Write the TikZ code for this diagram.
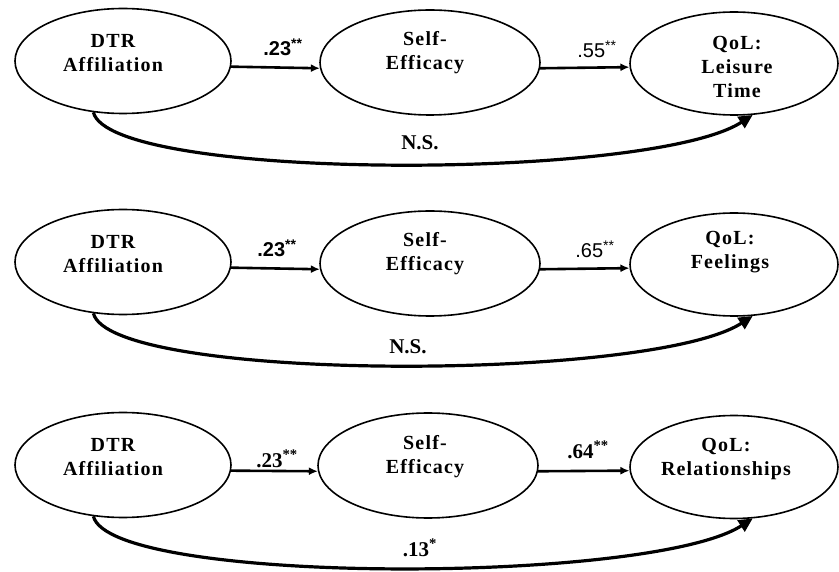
\documentclass[tikz,border=0pt]{standalone}
\usepackage{fontspec}
\setmainfont{Liberation Serif}[LetterSpace=6]
\setsansfont{Liberation Sans}
\newfontfamily\labfont{Liberation Serif}
\usetikzlibrary{arrows.meta,shapes.geometric}
\begin{document}
\begin{tikzpicture}[x=1pt,y=-1pt,
  ellL/.style={draw, line width=1.6pt, ellipse, minimum width=216pt, minimum height=105pt, inner sep=0pt},
  ellM/.style={draw, line width=1.6pt, ellipse, minimum width=220pt, minimum height=105pt, inner sep=0pt},
  ellR/.style={draw, line width=1.6pt, ellipse, minimum width=208pt, minimum height=103pt, inner sep=0pt},
  txt/.style={font=\fontsize{20}{24}\selectfont\bfseries, align=center, inner sep=0pt},
  elab/.style={font=\fontsize{20}{22}\selectfont\sffamily\bfseries, inner sep=0pt, anchor=base},
  elabr/.style={font=\fontsize{20}{22}\selectfont\sffamily, inner sep=0pt, anchor=base},
  slab/.style={font=\labfont\fontsize{21}{24}\selectfont\bfseries, inner sep=0pt, anchor=base},
  sarrow/.style={line width=2.6pt, -{Latex[length=9pt,width=8pt]}},
  carrow/.style={line width=3.2pt, -{Triangle[length=14pt,width=13pt]}}
]
\useasboundingbox (0,0) rectangle (839,572);

% ---------- Row 1 ----------
\node[ellL] (L1) at (123,61) {};
\node[ellM] (M1) at (430,62.5) {};
\node[ellR] (R1) at (734,63.5) {};
\node[txt] (L1t) at (113,53) {DTR\\Affiliation};
\node[txt] (M1t) at (425,53) {Self-\\Efficacy};
\node[txt] (R1t) at (737,67) {QoL:\\Leisure\\Time};
\draw[sarrow] (L1.-3.7) -- (M1.183);
\draw[sarrow] (M1.-3) -- (R1.182.5);
\draw[carrow] (L1.240) .. controls +(17,69) and +(-102,66) .. (R1.290);
\node[elab] (a1) at (283,56) {.23\textsuperscript{**}};
\node[elabr] (b1) at (597,58) {.55\textsuperscript{**}};
\node[slab] (c1) at (420,150) {N.S.};

% ---------- Row 2 ----------
\node[ellL] (L2) at (123,262) {};
\node[ellM] (M2) at (430,263.5) {};
\node[ellR] (R2) at (734,264.5) {};
\node[txt] (L2t) at (113,254) {DTR\\Affiliation};
\node[txt] (M2t) at (425,254) {Self-\\Efficacy};
\node[txt] (R2t) at (730,252) {QoL:\\Feelings};
\draw[sarrow] (L2.-3.7) -- (M2.183);
\draw[sarrow] (M2.-3) -- (R2.182.5);
\draw[carrow] (L2.240) .. controls +(17,69) and +(-102,66) .. (R2.290);
\node[elab] (a2) at (277,257) {.23\textsuperscript{**}};
\node[elabr] (b2) at (595,258) {.65\textsuperscript{**}};
\node[slab] (c2) at (408,354) {N.S.};

% ---------- Row 3 ----------
\node[ellL] (L3) at (123,465) {};
\node[ellM] (M3) at (428,465.5) {};
\node[ellR] (R3) at (734,467) {};
\node[txt] (L3t) at (113,457) {DTR\\Affiliation};
\node[txt] (M3t) at (425,457) {Self-\\Efficacy};
\node[txt] (R3t) at (726,459) {QoL:\\Relationships};
\draw[sarrow] (L3.-3.7) -- (M3.183);
\draw[sarrow] (M3.-3) -- (R3.182.5);
\draw[carrow] (L3.240) .. controls +(17,69) and +(-102,66) .. (R3.290);
\node[slab] (a3) at (277,467) {.23\textsuperscript{**}};
\node[slab] (b3) at (588,458) {.64\textsuperscript{**}};
\node[slab] (c3) at (420,556) {.13\textsuperscript{*}};
\end{tikzpicture}
\end{document}
